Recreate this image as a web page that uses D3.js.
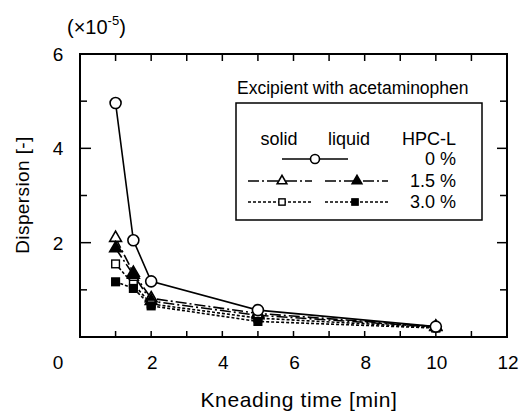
<!DOCTYPE html>
<html lang="en">
  <head>
    <meta charset="utf-8">
    <title>Dispersion vs kneading time</title>
    <script src="https://d3js.org/d3.v7.js"></script>
    <style>
      body { margin: 0; background: #fff; }
      svg { display: block; }
      text { font-family: "Liberation Sans", Arial, sans-serif; fill: #000; }
    </style>
  </head>

  <body>
    <svg></svg>

  <script>

// data (dispersion in units of 1e-5)

  var times = [1, 1.5, 2, 5, 10];
  var hpc0 = [4.96, 2.05, 1.18, 0.57, 0.22];
  var solid15 = [2.10, 1.36, 0.82, 0.50, 0.22];
  var liquid15 = [1.88, 1.32, 0.76, 0.46, 0.21];
  var solid30 = [1.55, 1.12, 0.70, 0.40, 0.20];
  var liquid30 = [1.17, 1.03, 0.66, 0.33, 0.19];

  var xTicks = [2, 4, 6, 8, 10, 12];
  var yTicks = [2, 4, 6];

  var series = [
    {name: "solid 1.5", values: solid15, marker: "triangle", filled: false, dash: "11,3,2,3"},
    {name: "liquid 1.5", values: liquid15, marker: "triangle", filled: true, dash: "11,3,2,3"},
    {name: "solid 3.0", values: solid30, marker: "square", filled: false, dash: "3,2"},
    {name: "liquid 3.0", values: liquid30, marker: "square", filled: true, dash: "3,2"},
    {name: "0", values: hpc0, marker: "circle", filled: false, dash: null}
  ];

  var w = 522;
  var h = 414;
  var margin = {top: 54, right: 15, bottom: 77, left: 80};
  var innerWidth = w - margin.left - margin.right;
  var innerHeight = h - margin.top - margin.bottom;

  var svg = d3.select("svg")
      .attr("width", w)
      .attr("height", h);

  var xScale = d3.scaleLinear().domain([0, 12]).range([0, innerWidth]);
  var yScale = d3.scaleLinear().domain([0, 6]).range([innerHeight, 0]);

  var plot = svg.append("g")
      .attr("transform", `translate(${margin.left}, ${margin.top})`);

// ticks pointing inward on all four sides

  var minor = d3.range(1, 12);
  var yMinor = d3.range(1, 6);

  plot.selectAll(".xtb").data(minor).enter().append("line")
      .attr("x1", d => xScale(d)).attr("x2", d => xScale(d))
      .attr("y1", innerHeight).attr("y2", innerHeight - 6)
      .attr("stroke", "#000").attr("stroke-width", 1.5);

  plot.selectAll(".xtt").data(minor).enter().append("line")
      .attr("x1", d => xScale(d)).attr("x2", d => xScale(d))
      .attr("y1", 0).attr("y2", 7)
      .attr("stroke", "#000").attr("stroke-width", 1.5);

  plot.selectAll(".ytl").data(yMinor).enter().append("line")
      .attr("x1", 0).attr("x2", d => d % 2 ? 7 : 11)
      .attr("y1", d => yScale(d)).attr("y2", d => yScale(d))
      .attr("stroke", "#000").attr("stroke-width", 1.5);

  plot.selectAll(".ytr").data(yMinor).enter().append("line")
      .attr("x1", innerWidth).attr("x2", d => innerWidth - (d % 2 ? 7 : 10))
      .attr("y1", d => yScale(d)).attr("y2", d => yScale(d))
      .attr("stroke", "#000").attr("stroke-width", 1.5);

  plot.append("rect")
      .attr("width", innerWidth)
      .attr("height", innerHeight)
      .attr("fill", "none")
      .attr("stroke", "#000")
      .attr("stroke-width", 2);

// tick labels

  plot.selectAll(".xl").data(xTicks).enter().append("text")
      .attr("x", d => xScale(d) + 1)
      .attr("y", innerHeight + 32)
      .attr("text-anchor", "middle")
      .attr("font-size", 19)
      .text(d => d);

  plot.selectAll(".yl").data(yTicks).enter().append("text")
      .attr("x", -22)
      .attr("y", d => yScale(d) + 7)
      .attr("text-anchor", "middle")
      .attr("font-size", 19)
      .text(d => d);

  plot.append("text")
      .attr("x", -22)
      .attr("y", innerHeight + 32)
      .attr("text-anchor", "middle")
      .attr("font-size", 19)
      .text("0");

  svg.append("text")
      .attr("x", 299)
      .attr("y", 407)
      .attr("text-anchor", "middle")
      .attr("font-size", 21)
      .attr("letter-spacing", 0.6)
      .text("Kneading time [min]");

  svg.append("text")
      .attr("transform", "translate(29, 195) rotate(-90)")
      .attr("text-anchor", "middle")
      .attr("font-size", 19)
      .attr("letter-spacing", 0.4)
      .text("Dispersion [-]");

  var mult = svg.append("text")
      .attr("x", 67)
      .attr("y", 34)
      .attr("font-size", 20);
  mult.append("tspan").text("(\u00d710");
  mult.append("tspan").attr("dy", -9).attr("font-size", 13).text("-5");
  mult.append("tspan").attr("dy", 9).text(")");

// markers

  function drawMarker(g, type, filled, size) {
    var fill = filled ? "#000" : "#fff";
    if (type === "circle") {
      g.append("circle").attr("r", size).attr("fill", fill)
          .attr("stroke", "#000").attr("stroke-width", 1.6);
    } else if (type === "triangle") {
      g.append("path")
          .attr("d", d3.symbol(d3.symbolTriangle, size * size * 2.0)())
          .attr("fill", fill).attr("stroke", "#000").attr("stroke-width", 1.6);
    } else {
      g.append("rect").attr("x", -size * 0.7).attr("y", -size * 0.7)
          .attr("width", size * 1.4).attr("height", size * 1.4)
          .attr("fill", fill).attr("stroke", "#000").attr("stroke-width", 1.4);
    }
  }

  var line = d3.line()
      .x((d, i) => xScale(times[i]))
      .y(d => yScale(d));

  series.forEach(function(s) {
    plot.append("path")
        .attr("d", line(s.values))
        .attr("fill", "none")
        .attr("stroke", "#000")
        .attr("stroke-width", 1.6)
        .attr("stroke-dasharray", s.dash);
  });

  series.forEach(function(s) {
    s.values.forEach(function(v, i) {
      var g = plot.append("g")
          .attr("transform", `translate(${xScale(times[i])}, ${yScale(v)})`);
      drawMarker(g, s.marker, s.filled, 5.5);
    });
  });

// legend

  var leg = svg.append("g");

  leg.append("rect")
      .attr("x", 236).attr("y", 103)
      .attr("width", 246).attr("height", 117)
      .attr("fill", "#fff")
      .attr("stroke", "#000")
      .attr("stroke-width", 1.5);

  leg.append("text")
      .attr("x", 237).attr("y", 94)
      .attr("font-size", 17.5)
      .text("Excipient with acetaminophen");

  var heads = [["solid", 279], ["liquid", 349], ["HPC-L", 429]];
  heads.forEach(function(hd) {
    leg.append("text")
        .attr("x", hd[1]).attr("y", 145)
        .attr("text-anchor", "middle")
        .attr("font-size", 18)
        .text(hd[0]);
  });

  var rows = [
    {label: "0 %", y: 159, items: [{x1: 282, x2: 348, mx: 315, s: series[4]}]},
    {label: "1.5 %", y: 181, items: [{x1: 248, x2: 312, mx: 282, s: series[0]}, {x1: 325, x2: 388, mx: 357, s: series[1]}]},
    {label: "3.0 %", y: 202, items: [{x1: 248, x2: 312, mx: 282, s: series[2]}, {x1: 325, x2: 388, mx: 355, s: series[3]}]}
  ];

  rows.forEach(function(r) {
    r.items.forEach(function(it) {
      leg.append("line")
          .attr("x1", it.x1).attr("x2", it.x2)
          .attr("y1", r.y).attr("y2", r.y)
          .attr("stroke", "#000").attr("stroke-width", 1.3)
          .attr("stroke-dasharray", it.s.dash);
      var g = leg.append("g").attr("transform", `translate(${it.mx}, ${r.y})`);
      drawMarker(g, it.s.marker, it.s.filled, 4.5);
    });
    leg.append("text")
        .attr("x", 456).attr("y", r.y + 6)
        .attr("text-anchor", "end")
        .attr("font-size", 18)
        .text(r.label);
  });

    </script>

  </body>

</html>
